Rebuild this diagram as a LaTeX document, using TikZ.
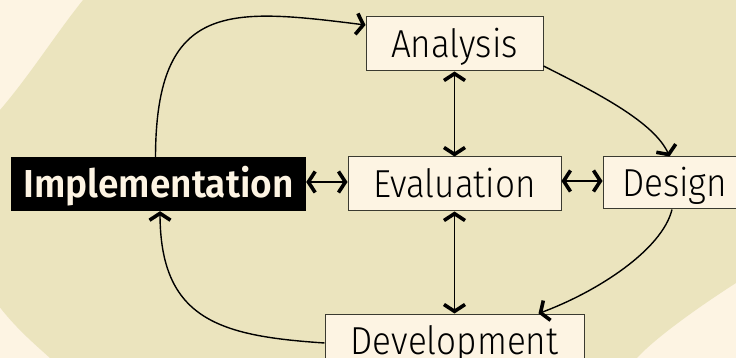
\documentclass[tikz,border=0pt]{standalone}
\usepackage{fontspec}
\setmainfont{Fira Sans Light}[FakeStretch=0.9, BoldFont={Fira Sans SemiBold}, BoldFeatures={FakeStretch=0.95}]
\usetikzlibrary{arrows.meta}
\definecolor{bgcream}{HTML}{FDF4E3}
\definecolor{blobcol}{HTML}{EBE4BE}
\definecolor{boxline}{HTML}{3A3A30}
\pgfdeclarearrow{
  name = Chev,
  setup code = {
    \pgfarrowssettipend{0pt}
    \pgfarrowssetlineend{-2.5pt}
    \pgfarrowssetbackend{-10.5pt}
  },
  drawing code = {
    \pgfpathmoveto{\pgfpointorigin}
    \pgfpathlineto{\pgfpoint{-7.5pt}{11.5pt}}
    \pgfpathlineto{\pgfpoint{-10.5pt}{9.54pt}}
    \pgfpathlineto{\pgfpoint{-4.3pt}{0pt}}
    \pgfpathlineto{\pgfpoint{-10.5pt}{-9.54pt}}
    \pgfpathlineto{\pgfpoint{-7.5pt}{-11.5pt}}
    \pgfpathclose
    \pgfusepathqfill
  }
}
\tikzset{
  box/.style={draw=boxline, line width=1pt, fill=bgcream, inner sep=0pt,
    minimum height=54pt, text height=27.4pt, text depth=0pt,
    font=\fontsize{39}{46}\selectfont, text=black},
  impbox/.style={fill=black, inner sep=0pt, minimum height=54pt,
    text height=27.4pt, text depth=0pt,
    font=\fontsize{39}{46}\selectfont\bfseries, text=bgcream},
  conn/.style={black, draw, line width=1.4pt},
  arr/.style={conn, -Chev},
  darr/.style={conn, Chev-Chev},
}
\begin{document}
\begin{tikzpicture}[x=1pt,y=-1pt]
\useasboundingbox (0,0) rectangle (736,358);
\clip (0,0) rectangle (736,358);
\fill[bgcream] (0,0) rectangle (736,358);
\fill[blobcol] (-38,215) .. controls (-38,165) and (-22,135) .. (0,110)
  .. controls (30,75) and (55,35) .. (83,0)
  .. controls (200,-150) and (800,-200) .. (880,80)
  .. controls (900,200) and (790,250) .. (736,283)
  .. controls (700,306) and (655,338) .. (637,358)
  .. controls (580,420) and (110,410) .. (50,358)
  .. controls (20,331) and (-30,290) .. cycle;

\node[box, minimum width=177pt] (ana) at (454.5,44) {Analysis};
\node[box, minimum width=213pt] (eva) at (454.5,184) {Evaluation};
\node[box, minimum width=143pt, minimum height=52pt] (des) at (674.5,183) {Design};
\node[impbox, minimum width=295pt] (imp) at (158.5,184) {Implementation};
\node[box, minimum width=259pt] (dev) at (454.5,341) {Development};

\draw[arr] ([xshift=-3pt]imp.north) .. controls (156,0) and (230,8) .. ([yshift=19pt]ana.west);
\draw[arr] ([yshift=-22pt]ana.east) .. controls (595,92) and (655,122) .. ([xshift=-5pt]des.north);
\draw[arr] ([xshift=-2.5pt]des.south) .. controls (662,250) and (597,292) .. ([xshift=84pt]dev.north);
\draw[arr] ([yshift=-2pt]dev.west) .. controls (220,336) and (160,320) .. ([xshift=1.5pt]imp.south);
\draw[darr] (ana.south) -- (eva.north);
\draw[darr] (eva.south) -- (dev.north);
\draw[darr] ([yshift=2pt]imp.east) -- ([yshift=2pt]eva.west);
\draw[darr] ([yshift=3pt]eva.east) -- ([yshift=3pt]eva.east -| des.west);
\end{tikzpicture}
\end{document}
